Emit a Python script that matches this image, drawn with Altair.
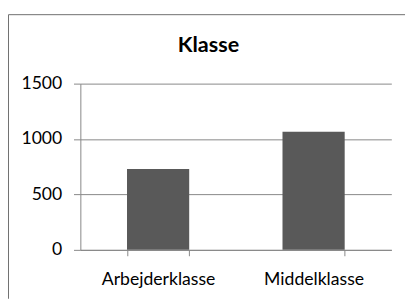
import altair as alt
import pandas as pd

categories = ["Arbejderklasse", "Middelklasse"]
values = [730, 1065]
y_ticks = [0, 500, 1000, 1500]
title_text = ["Klasse"]

W, H = 318, 170
FONT = "Lato"
GRAY = "#868686"

bars_df = pd.DataFrame({"Klasse": categories, "Antal": values})
one = pd.DataFrame({"t": title_text})

bars = alt.Chart(bars_df).mark_bar(color="#595959").encode(
    x=alt.X("Klasse:N", sort=categories,
            scale=alt.Scale(paddingInner=0.6, paddingOuter=0.3),
            axis=alt.Axis(title=None, labelAngle=0, tickBand="extent", grid=False,
                          domainColor=GRAY, tickColor=GRAY, tickSize=6,
                          labelFont=FONT, labelFontSize=18, labelColor="#000",
                          labelPadding=15)),
    y=alt.Y("Antal:Q", scale=alt.Scale(domain=[0, 1500], nice=False),
            axis=alt.Axis(title=None, values=y_ticks, grid=True, gridColor=GRAY,
                          format="d",
                          domainColor=GRAY, tickColor=GRAY, tickSize=7,
                          labelFont=FONT, labelFontSize=18, labelColor="#000",
                          labelPadding=12)),
)

title = alt.Chart(one).mark_text(font=FONT, fontSize=22, fontWeight="bold",
                                 baseline="alphabetic", align="center", color="#000").encode(
    x=alt.value(131), y=alt.value(-32), text="t:N")

top_line = alt.Chart(one).mark_rule(color="#6e6e6e", strokeWidth=1).encode(
    x=alt.value(-73.5), x2=alt.value(332), y=alt.value(-70.5))
left_line = alt.Chart(one).mark_rule(color="#6e6e6e", strokeWidth=1).encode(
    x=alt.value(-73.5), y=alt.value(-70.5), y2=alt.value(220))

chart = alt.layer(bars, title, top_line, left_line).properties(
    width=W, height=H,
    padding={"left": 0, "top": 3, "right": 0, "bottom": 0},
).configure_view(stroke=None)

chart.save("out.html", embed_options={"renderer": "svg", "actions": False})
